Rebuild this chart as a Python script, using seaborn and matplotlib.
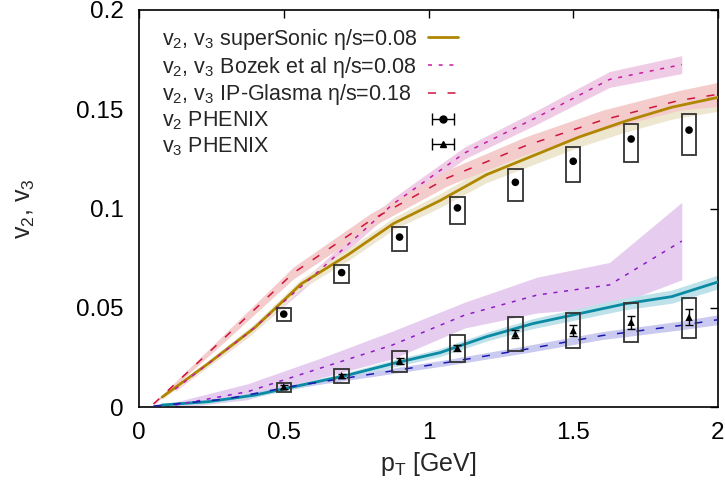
import numpy as np
import pandas as pd
import matplotlib
matplotlib.use("Agg")
import matplotlib.pyplot as plt
import seaborn as sns
from matplotlib.lines import Line2D

# ---------------- data ----------------
# superSonic eta/s=0.08
ss_pt = [0.08, 0.24, 0.40, 0.56, 0.72, 0.88, 1.04, 1.20, 1.36, 1.52, 1.68, 1.84, 2.00]
ss_v2 = [0.005, 0.022, 0.040, 0.062, 0.0765, 0.0925, 0.104, 0.117, 0.1265, 0.136, 0.144, 0.151, 0.156]
ss_v2_err = [0.001, 0.0015, 0.002, 0.0025, 0.003, 0.003, 0.0035, 0.004, 0.0045, 0.005, 0.0055, 0.006, 0.007]
ss_v3 = [0.001, 0.0027, 0.006, 0.011, 0.016, 0.022, 0.0274, 0.0354, 0.042, 0.047, 0.052, 0.0556, 0.063]
ss_v3_err = [0.0005, 0.001, 0.001, 0.0012, 0.0015, 0.0018, 0.002, 0.0022, 0.0025, 0.0028, 0.003, 0.0033, 0.0035]

# Bozek et al eta/s=0.08
bz_pt = [0.125, 0.375, 0.625, 0.875, 1.125, 1.375, 1.625, 1.875]
bz_v2 = [0.009, 0.037, 0.069, 0.102, 0.128, 0.146, 0.165, 0.1725]
bz_v2_err = [0.001, 0.002, 0.0025, 0.003, 0.003, 0.0035, 0.004, 0.0045]
bz_v3 = [0.001, 0.0077, 0.0195, 0.0312, 0.0463, 0.0564, 0.0615, 0.0836]
bz_v3_err = [0.0015, 0.004, 0.005, 0.007, 0.0065, 0.009, 0.0113, 0.0195]

# IP-Glasma eta/s=0.18
ip_pt = [0.05, 0.30, 0.533, 0.80, 1.067, 1.333, 1.60, 1.867, 2.00]
ip_v2 = [0.0015, 0.0355, 0.0675, 0.094, 0.1155, 0.1315, 0.1445, 0.1545, 0.1575]
ip_v2_err = [0.0005, 0.002, 0.003, 0.0035, 0.004, 0.0045, 0.005, 0.005, 0.006]
ip_v3 = [0.0005, 0.004, 0.0105, 0.0165, 0.0225, 0.029, 0.036, 0.041, 0.044]
ip_v3_err = [0.0003, 0.0008, 0.001, 0.0013, 0.0015, 0.0018, 0.002, 0.0022, 0.0025]

# PHENIX data
ph_pt = [0.5, 0.7, 0.9, 1.1, 1.3, 1.5, 1.7, 1.9]
ph_v2 = [0.0468, 0.0677, 0.0856, 0.1003, 0.1132, 0.1238, 0.135, 0.1395]
ph_v2_sys_lo = [0.0433, 0.0623, 0.0786, 0.0922, 0.1039, 0.1132, 0.1233, 0.1271]
ph_v2_sys_hi = [0.0499, 0.0714, 0.0905, 0.1058, 0.1197, 0.1308, 0.1426, 0.1475]
ph_v3 = [0.0102, 0.0158, 0.0232, 0.0297, 0.0368, 0.0385, 0.0427, 0.0452]
ph_v3_err = [0.001, 0.001, 0.0015, 0.0015, 0.002, 0.0027, 0.0033, 0.004]
ph_v3_sys_lo = [0.0076, 0.0119, 0.0178, 0.0228, 0.0284, 0.0297, 0.0329, 0.0346]
ph_v3_sys_hi = [0.0122, 0.019, 0.0282, 0.0363, 0.0452, 0.0472, 0.0522, 0.0551]

x_ticks = [0, 0.5, 1, 1.5, 2]
x_tick_labels = ["0", "0.5", "1", "1.5", "2"]
y_ticks = [0, 0.05, 0.1, 0.15, 0.2]
y_tick_labels = ["0", "0.05", "0.1", "0.15", "0.2"]

labels = [
    "v$_2$, v$_3$ superSonic \u03b7/s=0.08",
    "v$_2$, v$_3$ Bozek et al \u03b7/s=0.08",
    "v$_2$, v$_3$ IP-Glasma \u03b7/s=0.18",
    "v$_2$ PHENIX",
    "v$_3$ PHENIX",
]

# ---------------- style ----------------
sns.set_style("white")
plt.rcParams["font.family"] = ["Liberation Sans", "DejaVu Sans"]
plt.rcParams["mathtext.fontset"] = "custom"
plt.rcParams["mathtext.rm"] = "Liberation Sans"
plt.rcParams["mathtext.it"] = "Liberation Sans"
plt.rcParams["mathtext.default"] = "regular"

C_SS2, B_SS2 = "#b08600", "#eee7cf"
C_SS3, B_SS3 = "#0a8aa3", "#bfe2ea"
C_BZ2, B_BZ2 = "#c81aa0", "#f0cbe6"
C_BZ3, B_BZ3 = "#8e1ac8", "#e6cdef"
C_IP2, B_IP2 = "#d0143c", "#f4cccc"
C_IP3, B_IP3 = "#1a1ab0", "#cacaf0"
DASH_SHORT = (0, (2.6, 4.4))
DASH_LONG = (0, (5.2, 7.6))

fig = plt.figure(figsize=(7.25, 4.91), dpi=100)
ax = fig.add_axes([139 / 725, 1 - 407 / 491, 579 / 725, 397 / 491])

def band(x, y, e, color, z):
    y = np.asarray(y); e = np.asarray(e)
    ax.fill_between(x, y - e, y + e, color=color, lw=0, zorder=z)

band(bz_pt, bz_v3, bz_v3_err, B_BZ3, 1)
band(bz_pt, bz_v2, bz_v2_err, B_BZ2, 1)
band(ss_pt, ss_v2, ss_v2_err, B_SS2, 1.2)
band(ss_pt, ss_v3, ss_v3_err, B_SS3, 1.2)
band(ip_pt, ip_v2, ip_v2_err, B_IP2, 1.4)
band(ip_pt, ip_v3, ip_v3_err, B_IP3, 1.4)

def line(x, y, color, ls, lw, z):
    sns.lineplot(x=x, y=y, color=color, linestyle=ls, lw=lw, ax=ax,
                 estimator=None, sort=False, legend=False, zorder=z)

line(ss_pt, ss_v2, C_SS2, "-", 2.0, 3)
line(ss_pt, ss_v3, C_SS3, "-", 2.0, 3)
line(bz_pt, bz_v2, C_BZ2, DASH_SHORT, 1.1, 3.2)
line(bz_pt, bz_v3, C_BZ3, DASH_SHORT, 1.1, 3.2)
line(ip_pt, ip_v2, C_IP2, DASH_LONG, 1.1, 3.4)
line(ip_pt, ip_v3, C_IP3, DASH_LONG, 1.1, 3.4)

# systematic boxes
ph_pt_a = np.asarray(ph_pt)
for lo, hi in ((ph_v2_sys_lo, ph_v2_sys_hi), (ph_v3_sys_lo, ph_v3_sys_hi)):
    lo = np.asarray(lo); hi = np.asarray(hi)
    ax.bar(ph_pt_a, hi - lo, bottom=lo, width=0.05, fill=False,
           edgecolor="#333333", linewidth=1.3, zorder=4)

# data points
sns.scatterplot(x=ph_pt, y=ph_v2, marker="o", color="black", s=30,
                edgecolor="none", ax=ax, zorder=5, legend=False)
ax.errorbar(ph_pt, ph_v3, yerr=ph_v3_err, fmt="none", ecolor="black",
            elinewidth=1.0, capsize=3, capthick=1.0, zorder=5)
sns.scatterplot(x=ph_pt, y=ph_v3, marker="^", color="black", s=28,
                edgecolor="none", ax=ax, zorder=5, legend=False)

# legend: texts (left aligned) and handles (right column) as two legends
h1 = Line2D([], [], color=C_SS2, lw=2.0)
h2 = Line2D([], [], color=C_BZ2, lw=1.1, linestyle=DASH_SHORT)
h3 = Line2D([], [], color=C_IP2, lw=1.1, linestyle=DASH_LONG)
h4 = ax.errorbar([np.nan], [np.nan], xerr=[0.1], fmt="o", color="black",
                 markersize=5, elinewidth=1.0, capsize=4, capthick=1.0)
h5 = ax.errorbar([np.nan], [np.nan], xerr=[0.1], fmt="^", color="black",
                 markersize=5, elinewidth=1.0, capsize=4, capthick=1.0)

common = dict(loc="upper left", bbox_transform=fig.transFigure, frameon=False,
              fontsize=15.5, borderpad=0, borderaxespad=0, labelspacing=0.12)
blank = [Line2D([], [], lw=0, alpha=0) for _ in labels]
legA = ax.legend(blank, labels, bbox_to_anchor=(162 / 725, 1 - 27 / 491),
                 handlelength=0, handletextpad=0, **common)
ax.add_artist(legA)
legB = ax.legend([h1, h2, h3, h4, h5], labels,
                 bbox_to_anchor=(428 / 725, 1 - 27 / 491),
                 handlelength=1.4, handletextpad=0.5, **common)
for t in legB.get_texts():
    t.set_alpha(0)

ax.set_xlim(0, 2)
ax.set_ylim(0, 0.2)
ax.set_xticks(x_ticks)
ax.set_xticklabels(x_tick_labels)
ax.set_yticks(y_ticks)
ax.set_yticklabels(y_tick_labels)
ax.tick_params(direction="in", length=6, width=1.0, top=True, right=True,
               labelsize=17.5, colors="black")
ax.tick_params(axis="x", pad=11)
ax.tick_params(axis="y", pad=11)
for s in ax.spines.values():
    s.set_visible(True)
    s.set_linewidth(1.2)
    s.set_color("black")
ax.set_xlabel("p$_T$ [GeV]", fontsize=18, labelpad=4)
ax.set_ylabel("v$_2$, v$_3$", fontsize=18, labelpad=28)

fig.savefig("out.png", dpi=100)
